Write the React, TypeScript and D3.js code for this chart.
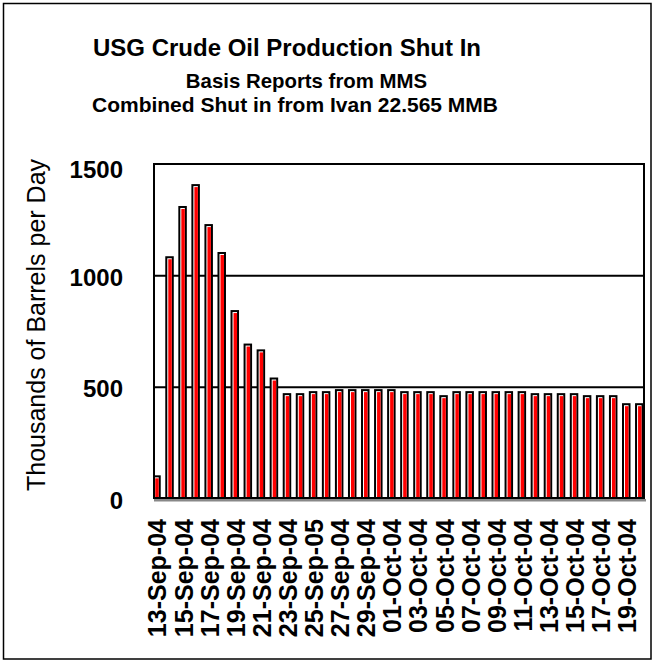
import React, { useEffect, useRef } from 'react';
import * as d3 from 'd3';

// daily dates, 13-Sep-04 .. 20-Oct-04
const dates = [
  '13-Sep-04', '14-Sep-04', '15-Sep-04', '16-Sep-04', '17-Sep-04', '18-Sep-04', '19-Sep-04', '20-Sep-04',
  '21-Sep-04', '22-Sep-04', '23-Sep-04', '24-Sep-04', '25-Sep-05', '26-Sep-04', '27-Sep-04', '28-Sep-04',
  '29-Sep-04', '30-Sep-04', '01-Oct-04', '02-Oct-04', '03-Oct-04', '04-Oct-04', '05-Oct-04', '06-Oct-04',
  '07-Oct-04', '08-Oct-04', '09-Oct-04', '10-Oct-04', '11-Oct-04', '12-Oct-04', '13-Oct-04', '14-Oct-04',
  '15-Oct-04', '16-Oct-04', '17-Oct-04', '18-Oct-04', '19-Oct-04', '20-Oct-04'
];

// thousands of barrels per day shut in
const shutIn = [
  106, 1087, 1312, 1410, 1231, 1106, 846, 696, 670, 544,
  474, 474, 483, 483, 492, 492, 492, 492, 492, 483,
  483, 483, 465, 483, 483, 483, 483, 483, 483, 474,
  474, 474, 474, 465, 465, 465, 429, 429
];

const yTicks = [0, 500, 1000, 1500];
const gridTicks = [500, 1000];

const titleLines = [
  'USG Crude Oil Production Shut In',
  'Basis Reports from MMS',
  'Combined Shut in from Ivan 22.565 MMB'
];

function App() {
  const svgRef = useRef<SVGSVGElement>(null);

  useEffect(() => {
    const svg = d3.select(svgRef.current);
    svg.selectAll('*').remove();

    const width = 655;
    const height = 663;
    const plot = { left: 154, right: 644, top: 164, bottom: 499 };
    const font = 'Liberation Sans, Arial, sans-serif';

    // outer frame
    svg.append('rect')
      .attr('x', 3.5).attr('y', 3.5)
      .attr('width', width - 7.5).attr('height', height - 7.5)
      .attr('fill', 'white')
      .attr('stroke', 'black')
      .attr('stroke-width', 1.5);

    // titles
    svg.append('text')
      .attr('x', 287).attr('y', 56)
      .attr('text-anchor', 'middle')
      .style('font-family', font).style('font-weight', 'bold').style('font-size', '24px')
      .text(titleLines[0]);
    svg.append('text')
      .attr('x', 306.5).attr('y', 87.5)
      .attr('text-anchor', 'middle')
      .style('font-family', font).style('font-weight', 'bold').style('font-size', '20.4px')
      .text(titleLines[1]);
    svg.append('text')
      .attr('x', 295).attr('y', 112)
      .attr('text-anchor', 'middle')
      .style('font-family', font).style('font-weight', 'bold').style('font-size', '21px')
      .text(titleLines[2]);

    const xScale = d3.scaleLinear()
      .domain([-0.19, dates.length - 0.64])
      .range([plot.left, plot.right]);
    const yScale = d3.scaleLinear()
      .domain([0, 1500])
      .range([plot.bottom, plot.top]);

    svg.append('defs').append('clipPath')
      .attr('id', 'plot-clip')
      .append('rect')
      .attr('x', plot.left).attr('y', plot.top)
      .attr('width', plot.right - plot.left).attr('height', plot.bottom - plot.top);

    // gridlines
    svg.append('g')
      .selectAll('line')
      .data(gridTicks)
      .join('line')
      .attr('x1', plot.left).attr('x2', plot.right)
      .attr('y1', d => yScale(d)).attr('y2', d => yScale(d))
      .attr('stroke', 'black')
      .attr('stroke-width', 2);

    // bars: black outline, white top/left highlight, red fill
    const bw = 8.5;
    const bars = svg.append('g').attr('clip-path', 'url(#plot-clip)')
      .selectAll('g')
      .data(shutIn)
      .join('g');
    bars.append('rect')
      .attr('x', (_, i) => xScale(i) - bw / 2)
      .attr('y', d => yScale(d))
      .attr('width', bw)
      .attr('height', d => plot.bottom - yScale(d))
      .attr('fill', 'black');
    bars.append('rect')
      .attr('x', (_, i) => xScale(i) - bw / 2 + 2)
      .attr('y', d => yScale(d) + 2)
      .attr('width', bw - 4)
      .attr('height', d => Math.max(0, plot.bottom - yScale(d) - 2))
      .attr('fill', 'white');
    bars.append('rect')
      .attr('x', (_, i) => xScale(i) - bw / 2 + 3)
      .attr('y', d => yScale(d) + 3)
      .attr('width', bw - 5)
      .attr('height', d => Math.max(0, plot.bottom - yScale(d) - 3))
      .attr('fill', '#ff0000');

    // plot border + shadow under the axis
    svg.append('rect')
      .attr('x', plot.left).attr('y', plot.bottom)
      .attr('width', plot.right - plot.left + 2).attr('height', 2.5)
      .attr('fill', '#888');
    svg.append('rect')
      .attr('x', plot.left).attr('y', plot.top)
      .attr('width', plot.right - plot.left).attr('height', plot.bottom - plot.top - 1)
      .attr('fill', 'none')
      .attr('stroke', 'black')
      .attr('stroke-width', 2);

    // y tick labels
    svg.append('g')
      .selectAll('text')
      .data(yTicks)
      .join('text')
      .attr('x', 123)
      .attr('y', d => yScale(d) + (d === 1500 ? 14 : 10))
      .attr('text-anchor', 'end')
      .style('font-family', font).style('font-weight', 'bold').style('font-size', '24px')
      .text(d => d);

    // y axis title
    svg.append('text')
      .attr('transform', 'translate(45,325) rotate(-90)')
      .attr('text-anchor', 'middle')
      .style('font-family', font).style('font-size', '25px')
      .text('Thousands of Barrels per Day');

    // x tick labels, every other day
    svg.append('g')
      .selectAll('text')
      .data(dates.map((d, i) => ({ d, i })).filter(o => o.i % 2 === 0))
      .join('text')
      .attr('transform', o => `translate(${xScale(o.i) + 10},519) rotate(-90)`)
      .attr('text-anchor', 'end')
      .style('font-family', font).style('font-weight', 'bold').style('font-size', '25px')
      .text(o => o.d);
  }, []);

  return (
    <svg ref={svgRef} width={655} height={663} style={{ position: 'absolute', left: 0, top: 0 }}></svg>
  );
}

export default App;
